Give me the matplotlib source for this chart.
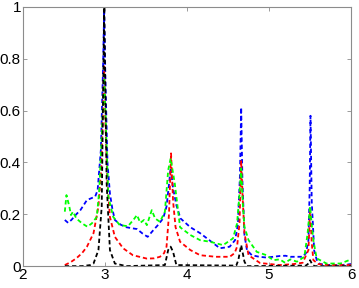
import matplotlib
matplotlib.use("Agg")
import matplotlib.pyplot as plt

# Blue series
blue_x = [2.51, 2.55, 2.59, 2.65, 2.70, 2.78, 2.88, 2.91, 2.95, 2.975, 2.99, 3.005, 3.03, 3.06, 3.09, 3.12,
          3.19, 3.26, 3.33, 3.39, 3.46, 3.52, 3.59, 3.65, 3.71, 3.75, 3.785, 3.80, 3.83, 3.87, 3.92,
          4.04, 4.16, 4.28, 4.40, 4.47, 4.52, 4.585, 4.62, 4.645, 4.66, 4.675, 4.70, 4.73, 4.79, 4.88,
          4.97, 5.05, 5.13, 5.20, 5.26, 5.34, 5.41, 5.45, 5.48, 5.495, 5.505, 5.52, 5.55, 5.58, 5.62,
          5.70, 5.80, 5.87, 5.95, 6.0]
blue_y = [0.178, 0.167, 0.178, 0.200, 0.216, 0.255, 0.268, 0.293, 0.45, 0.75, 0.99, 0.72, 0.40, 0.28, 0.22, 0.178,
          0.160, 0.150, 0.146, 0.143, 0.125, 0.113, 0.139, 0.160, 0.185, 0.23, 0.33, 0.38, 0.30, 0.235, 0.184,
          0.150, 0.127, 0.098, 0.069, 0.072, 0.075, 0.100, 0.16, 0.35, 0.612, 0.33, 0.12, 0.062, 0.042, 0.036,
          0.033, 0.036, 0.039, 0.040, 0.036, 0.036, 0.036, 0.05, 0.10, 0.30, 0.58, 0.25, 0.06, 0.025, 0.008,
          0.005, 0.004, 0.004, 0.006, 0.008]

# Red series
red_x = [2.51, 2.58, 2.65, 2.72, 2.78, 2.86, 2.92, 2.955, 2.975, 2.99, 3.005, 3.03, 3.06, 3.12, 3.22,
         3.34, 3.51, 3.60, 3.67, 3.72, 3.75, 3.78, 3.805, 3.83, 3.86, 3.915, 4.04, 4.16, 4.35, 4.52,
         4.58, 4.61, 4.64, 4.66, 4.68, 4.70, 4.75, 4.89, 5.13, 5.30, 5.41, 5.48, 5.50, 5.52, 5.54,
         5.60, 5.70, 6.0]
red_y = [0.004, 0.015, 0.030, 0.050, 0.075, 0.127, 0.23, 0.38, 0.60, 0.77, 0.55, 0.32, 0.19, 0.113, 0.069,
         0.042, 0.029, 0.030, 0.036, 0.050, 0.075, 0.20, 0.435, 0.25, 0.15, 0.094, 0.062, 0.042, 0.036, 0.036,
         0.050, 0.075, 0.166, 0.405, 0.25, 0.127, 0.042, 0.012, 0.004, 0.008, 0.013, 0.062, 0.22, 0.09, 0.023,
         0.008, 0.004, 0.004]

# Green series
green_x = [2.51, 2.53, 2.565, 2.585, 2.61, 2.65, 2.72, 2.785, 2.84, 2.90, 2.93, 2.96, 2.99, 3.015, 3.04,
           3.10, 3.18, 3.28, 3.345, 3.39, 3.43, 3.475, 3.51, 3.57, 3.61, 3.67, 3.73, 3.77, 3.80, 3.85,
           3.915, 4.04, 4.16, 4.28, 4.44, 4.56, 4.61, 4.64, 4.66, 4.68, 4.70, 4.75, 4.85, 4.97, 5.05,
           5.13, 5.195, 5.26, 5.34, 5.43, 5.47, 5.50, 5.52, 5.54, 5.58, 5.70, 5.87, 6.0]
green_y = [0.21, 0.274, 0.23, 0.197, 0.21, 0.184, 0.165, 0.152, 0.165, 0.19, 0.293, 0.50, 0.74, 0.50, 0.268,
           0.19, 0.158, 0.154, 0.178, 0.197, 0.167, 0.178, 0.158, 0.216, 0.184, 0.171, 0.21, 0.37, 0.415, 0.32,
           0.15, 0.12, 0.10, 0.094, 0.081, 0.107, 0.165, 0.28, 0.377, 0.24, 0.152, 0.10, 0.055, 0.042, 0.023,
           0.026, 0.013, 0.026, 0.017, 0.036, 0.127, 0.23, 0.16, 0.10, 0.03, 0.01, 0.01, 0.026]

# Black series
black_x = [2.51, 2.72, 2.82, 2.86, 2.92, 2.96, 2.99, 3.02, 3.04, 3.06, 3.12, 3.26, 3.73, 3.77, 3.80,
           3.83, 3.87, 4.60, 4.625, 4.66, 4.70, 4.73, 5.45, 5.48, 5.50, 5.53, 5.56, 6.0]
black_y = [0.0, 0.0, 0.004, 0.01, 0.062, 0.23, 1.0, 0.32, 0.19, 0.062, 0.01, 0.0, 0.004, 0.062, 0.075,
           0.055, 0.004, 0.002, 0.023, 0.081, 0.017, 0.0, 0.002, 0.01, 0.023, 0.004, 0.0, 0.0]

x_ticks = [2, 3, 4, 5, 6]
y_ticks = [0, 0.2, 0.4, 0.6, 0.8, 1]
y_tick_labels = ["0", "0.2", "0.4", "0.6", "0.8", "1"]

plt.rcParams['font.family'] = ['Liberation Sans', 'DejaVu Sans']

fig = plt.figure(figsize=(3.59, 2.88), dpi=100)
ax = fig.add_axes([0.064, 0.076, 0.914, 0.9])

lw = 1.3
dash = (0, (2.4, 1.6))
ax.plot(blue_x, blue_y, color=(0, 0, 1), linestyle=dash, linewidth=lw)
ax.plot(red_x, red_y, color=(1, 0, 0), linestyle=dash, linewidth=lw)
ax.plot(green_x, green_y, color=(0, 1, 0), linestyle=dash, linewidth=lw)
ax.plot(black_x, black_y, color=(0, 0, 0), linestyle=dash, linewidth=lw)

ax.set_xlim(2, 6)
ax.set_ylim(0, 1)
ax.set_xticks(x_ticks)
ax.set_xticklabels([str(t) for t in x_ticks])
ax.set_yticks(y_ticks)
ax.set_yticklabels(y_tick_labels)

for s in ax.spines.values():
    s.set_color('#8c8c8c')
    s.set_linewidth(0.8)
ax.tick_params(direction='in', length=3, width=0.6, colors='#8c8c8c', labelcolor='black',
               labelsize=11, top=True, right=True, pad=1.5)

fig.savefig("out.png", dpi=100)
